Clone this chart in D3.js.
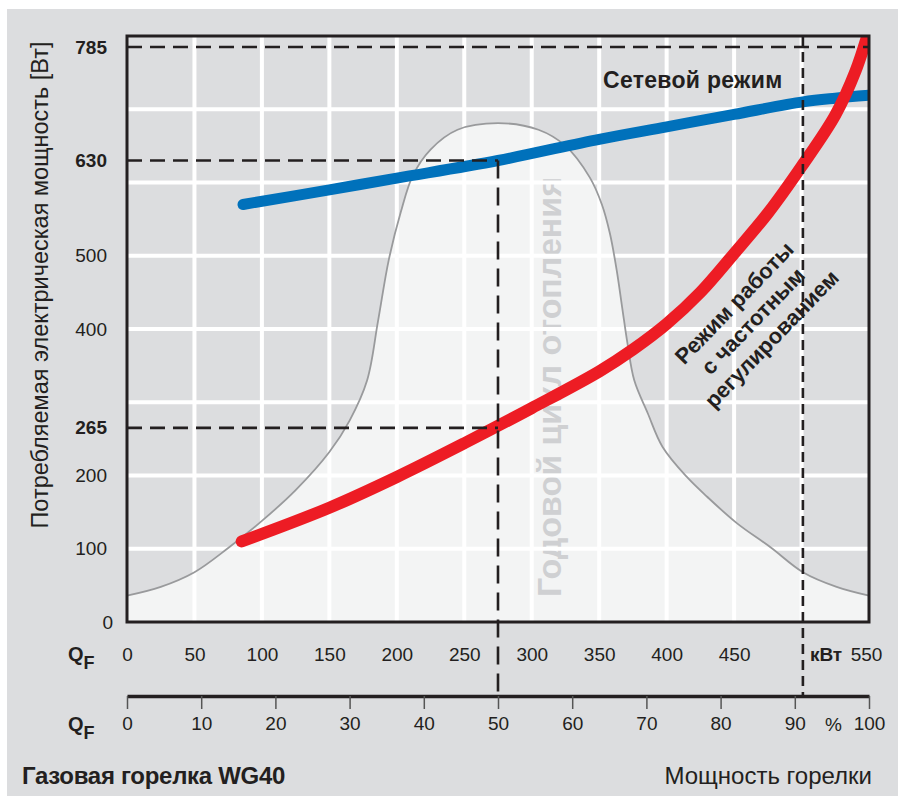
<!DOCTYPE html>
<html>
<head>
<meta charset="utf-8">
<script src="https://cdn.jsdelivr.net/npm/d3@7"></script>
<style>
body { margin: 0; background: #fff; }
text { font-family: "Liberation Sans", Arial, sans-serif; fill: #231f20; }
</style>
</head>
<body>
<svg id="chart" width="898" height="796"></svg>
<script>
// ticks
const kwTicks = [0, 50, 100, 150, 200, 250, 300, 350, 400, 450, 550];
const pctTicks = [0, 10, 20, 30, 40, 50, 60, 70, 80, 90, 100];
const wTicks = [0, 100, 200, 265, 400, 500, 630, 785];
const wBold = [265, 630, 785];
const gridW = [100, 200, 300, 400, 500, 600, 700];
const gridKw = [50, 100, 150, 200, 250, 300, 350, 400, 450, 500];

// network mode (blue)
const netKw = [86, 150, 200, 275, 350, 400, 450, 501, 525, 550];
const netW  = [570, 590, 606, 630, 659, 676, 693, 710, 715, 719];

// frequency-controlled mode (red)
const vfdKw = [85, 150, 200, 250, 300, 350, 375, 400, 425, 450, 475, 500, 525, 540, 550];
const vfdW  = [110, 156, 198, 244, 292, 342, 372, 407, 450, 503, 558, 622, 692, 752, 808];

// annual heating cycle (bell)
const seasonKw = [0, 25, 50, 75, 100, 125, 150, 165, 178, 186, 194, 203, 212, 225, 245, 275,
                  305, 325, 343, 352, 358, 363, 367, 371, 376, 386, 397, 415, 430, 452, 477, 501, 526, 550];
const seasonW  = [36, 48, 68, 101, 138, 180, 232, 275, 330, 410, 494, 560, 610, 645, 672, 681,
                  672, 650, 607, 570, 530, 480, 430, 380, 330, 285, 239, 198, 171, 135, 102, 68, 48, 36];

// reference markers
const refKw = 275, refNetW = 630, refVfdW = 265, maxW = 785, maxKw = 501;

(function() {
    var svg = d3.select('#chart');
    var x = d3.scaleLinear().domain([0, 550]).range([127, 869]);
    var xp = d3.scaleLinear().domain([0, 100]).range([127, 869]);
    var y = d3.scaleLinear().domain([0, 800]).range([622, 36]);
    var axisY2 = 696;

    svg.append('rect').attr('x', 7).attr('y', 9).attr('width', 891).attr('height', 787)
        .style('fill', '#dcdddf');

    svg.append('defs').append('clipPath').attr('id', 'plotclip')
        .append('rect').attr('x', x(0)).attr('y', y(800))
        .attr('width', x(550) - x(0)).attr('height', y(0) - y(800));

    var season = seasonKw.map(function(k, i) { return [k, seasonW[i]]; });
    var smooth = d3.curveCatmullRom.alpha(0.5);
    var area = d3.area().x(d => x(d[0])).y0(y(0)).y1(d => y(d[1])).curve(smooth);
    var line = d3.line().x(d => x(d[0])).y(d => y(d[1])).curve(smooth);

    svg.append('path').datum(season).attr('d', area).style('fill', '#f3f4f4');

    // watermark
    svg.append('text')
        .attr('transform', 'translate(549,387) rotate(-90)')
        .attr('text-anchor', 'middle').attr('dominant-baseline', 'central')
        .attr('textLength', 420).attr('lengthAdjust', 'spacingAndGlyphs')
        .style('font-size', '33px').style('font-weight', 'bold').style('fill', '#cfd0d2')
        .text('Годовой цикл отопления');

    // grid
    var grid = svg.append('g').style('stroke', '#fff').style('stroke-width', 4);
    grid.selectAll('line.h').data(gridW).enter().append('line')
        .attr('x1', x(0)).attr('x2', x(550)).attr('y1', d => y(d)).attr('y2', d => y(d));
    grid.selectAll('line.v').data(gridKw).enter().append('line')
        .attr('y1', y(0)).attr('y2', y(800)).attr('x1', d => x(d)).attr('x2', d => x(d));

    svg.append('path').datum(season).attr('d', line)
        .style('fill', 'none').style('stroke', '#999a9c').style('stroke-width', 1.8);

    // curves
    var curves = svg.append('g').attr('clip-path', 'url(#plotclip)');
    curves.append('path').datum(netKw.map((k, i) => [k, netW[i]])).attr('d', line)
        .style('fill', 'none').style('stroke', '#0071bb').style('stroke-width', 11)
        .style('stroke-linecap', 'round');
    curves.append('path').datum(vfdKw.map((k, i) => [k, vfdW[i]])).attr('d', line)
        .style('fill', 'none').style('stroke', '#ed1c24').style('stroke-width', 12)
        .style('stroke-linecap', 'round');

    // dashed references
    var dash = svg.append('g').style('stroke', '#231f20').style('stroke-width', 2.6).style('fill', 'none');
    dash.append('line').attr('x1', x(0)).attr('x2', x(550)).attr('y1', y(maxW)).attr('y2', y(maxW))
        .style('stroke-dasharray', '15,8');
    dash.append('line').attr('x1', x(0)).attr('x2', x(refKw)).attr('y1', y(refNetW)).attr('y2', y(refNetW))
        .style('stroke-dasharray', '15,8');
    dash.append('line').attr('x1', x(0)).attr('x2', x(refKw)).attr('y1', y(refVfdW)).attr('y2', y(refVfdW))
        .style('stroke-dasharray', '15,8');
    dash.append('line').attr('x1', x(refKw)).attr('x2', x(refKw)).attr('y1', y(refNetW)).attr('y2', axisY2)
        .style('stroke-dasharray', '18,9');
    dash.append('line').attr('x1', x(maxKw)).attr('x2', x(maxKw)).attr('y1', y(800)).attr('y2', axisY2)
        .style('stroke-dasharray', '10,6');

    // frame
    svg.append('rect').attr('x', x(0)).attr('y', y(800))
        .attr('width', x(550) - x(0)).attr('height', y(0) - y(800))
        .style('fill', 'none').style('stroke', '#231f20').style('stroke-width', 3);

    // y axis
    var gy = svg.append('g').attr('transform', 'translate(' + x(0) + ',0)')
        .call(d3.axisLeft(y).tickValues(wTicks).tickSize(0).tickPadding(20));
    gy.select('.domain').remove();
    gy.selectAll('text').attr('font-family', null)
        .style('font-size', '19px')
        .style('font-weight', d => wBold.indexOf(d) >= 0 ? 'bold' : 'normal')
        .attr('x', d => d === 0 ? -14 : -20);

    // kW axis (labels only)
    var gk = svg.append('g').attr('transform', 'translate(0,647)')
        .call(d3.axisBottom(x).tickValues(kwTicks).tickSize(0).tickPadding(0));
    gk.select('.domain').remove();
    gk.selectAll('text').style('font-size', '19px')
        .attr('x', d => d === 550 ? -3 : 0);
    svg.append('text').attr('x', x(maxKw) + 7).attr('y', 661)
        .style('font-size', '19px').style('font-weight', 'bold').text('кВт');

    // % axis
    var gp = svg.append('g').attr('transform', 'translate(0,' + axisY2 + ')')
        .call(d3.axisBottom(xp).tickValues(pctTicks).tickSizeInner(13).tickSizeOuter(0).tickPadding(8));
    gp.select('.domain').style('stroke', '#231f20').style('stroke-width', 3.5);
    gp.selectAll('.tick line').style('stroke', '#555').style('stroke-width', 1.5);
    gp.selectAll('text').style('font-size', '19px');
    svg.append('text').attr('x', xp(95.2)).attr('y', 731).attr('text-anchor', 'middle')
        .style('font-size', '19px').text('%');

    // Q_F labels
    [661, 731].forEach(function(b) {
        var t = svg.append('text').attr('x', 68).attr('y', b)
            .style('font-size', '20px').style('font-weight', 'bold');
        t.append('tspan').text('Q');
        t.append('tspan').attr('dy', 8).style('font-size', '18px').text('F');
    });

    // axis titles
    svg.append('text').attr('transform', 'translate(48,285) rotate(-90)')
        .attr('text-anchor', 'middle').style('font-size', '23.5px')
        .text('Потребляемая электрическая мощность [Вт]');
    svg.append('text').attr('x', 22).attr('y', 784)
        .style('font-size', '24px').style('font-weight', 'bold').style('letter-spacing', '-0.3px')
        .text('Газовая горелка WG40');
    svg.append('text').attr('x', 872).attr('y', 784).attr('text-anchor', 'end')
        .style('font-size', '24px').text('Мощность горелки');

    // curve labels
    svg.append('text').attr('x', 603).attr('y', 88)
        .style('font-size', '23px').style('font-weight', 'bold').style('letter-spacing', '0.3px')
        .text('Сетевой режим');
    var lbl = svg.append('g').attr('transform', 'translate(753,321) rotate(-46)');
    ['Режим работы', 'с частотным', 'регулированием'].forEach(function(s, i) {
        lbl.append('text').attr('y', (i - 1) * 26).attr('text-anchor', 'middle')
            .attr('dominant-baseline', 'central')
            .style('font-size', '22px').style('font-weight', 'bold').text(s);
    });
})();
</script>
</body>
</html>
